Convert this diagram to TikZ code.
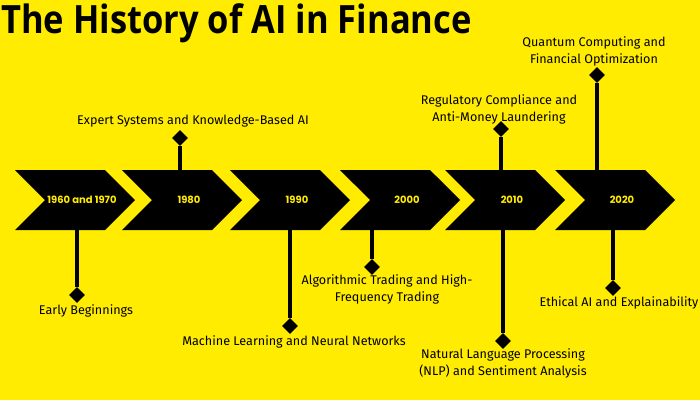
\documentclass[tikz,border=0pt]{standalone}
\usepackage{fontspec}
\usepackage{tikz}
\usetikzlibrary{shapes.symbols,shapes.geometric}
\newfontfamily\titlefont[FakeStretch=0.885]{Open Sans}
\newfontfamily\notefont{Fira Sans}
\newfontfamily\yearfont{Poppins}
\definecolor{bgyellow}{HTML}{FFEC00}
\definecolor{inkblack}{HTML}{000000}
\tikzset{
  chev/.style={signal, signal to=east, signal from=west, fill=inkblack,
               minimum width=120, minimum height=60, inner sep=0pt},
  yeartext/.style={text=bgyellow, font=\yearfont\bfseries\fontsize{10}{11}\selectfont},
  pin/.style={diamond, fill=inkblack, minimum size=16, inner sep=0pt},
  stem/.style={draw=inkblack, line width=3.5},
  note/.style={align=center, text=inkblack, inner sep=0pt,
               font=\notefont\fontsize{12.6}{17}\selectfont},
}

\begin{document}
\begin{tikzpicture}[x=1pt, y=-1pt]
    \fill[bgyellow] (0,0) rectangle (700,400);
    \useasboundingbox (0,0) rectangle (700,400);
    \node[anchor=base west, inner sep=0pt, font=\titlefont\bfseries\fontsize{39}{40}\selectfont] (title) at (1,33) {The History of AI in Finance};
    % timeline
    \node[chev] (c1) at (75,200) {};
    \node[chev] (c2) at (182,200) {};
    \node[chev] (c3) at (290,200) {};
    \node[chev] (c4) at (400,200) {};
    \node[chev] (c5) at (505,200) {};
    \node[chev] (c6) at (615,200) {};
    \node[yeartext] (y1) at (82,200) {1960 and 1970};
    \node[yeartext] (y2) at (189,200) {1980};
    \node[yeartext] (y3) at (297,200) {1990};
    \node[yeartext] (y4) at (407,200) {2000};
    \node[yeartext] (y5) at (512,200) {2010};
    \node[yeartext] (y6) at (622,200) {2020};
    % pins
    \node[pin] (d1) at (77,295) {};
    \node[pin] (d2) at (180,138) {};
    \node[pin] (d3) at (290,326) {};
    \node[pin] (d4) at (372,267) {};
    \node[pin] (d5) at (501,129) {};
    \node[pin] (d6) at (503,341) {};
    \node[pin] (d7) at (597,75) {};
    \node[pin] (d8) at (613,288) {};
    \draw[stem] (d1) -- (d1 |- c1.south);
    \draw[stem] (d2) -- (d2 |- c2.north);
    \draw[stem] (d3) -- (d3 |- c3.south);
    \draw[stem] (d4) -- (d4 |- c4.south);
    \draw[stem] (d5) -- (d5 |- c5.north);
    \draw[stem] (d6) -- (d6 |- c5.south);
    \draw[stem] (d7) -- (d7 |- c6.north);
    \draw[stem] (d8) -- (d8 |- c6.south);
    % notes
    \node[note] (n1) at (86,310.5) {Early Beginnings};
    \node[note] (n2) at (193,121.5) {Expert Systems and Knowledge-Based AI};
    \node[note] (n3) at (294,341.5) {Machine Learning and Neural Networks};
    \node[note] (n4) at (387,289.5) {Algorithmic Trading and High-\\Frequency Trading};
    \node[note] (n5) at (499,109.5) {Regulatory Compliance and\\Anti-Money Laundering};
    \node[note] (n6) at (503,363.5) {Natural Language Processing\\(NLP) and Sentiment Analysis};
    \node[note] (n7) at (594,51.5) {Quantum Computing and\\Financial Optimization};
    \node[note] (n8) at (619,302.5) {Ethical AI and Explainability};
\end{tikzpicture}
\end{document}
